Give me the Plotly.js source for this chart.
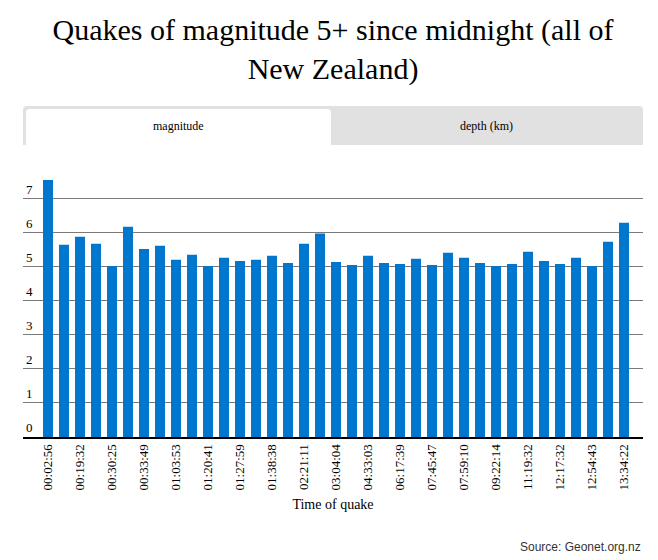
<!DOCTYPE html>
<html>
<head>
<meta charset="utf-8">
<script src="https://cdn.plot.ly/plotly-3.0.1.min.js"></script>
<style>
  html, body { margin: 0; padding: 0; background: #fff; }
  #chart { width: 658px; height: 560px; }
</style>
</head>
<body>
<div id="chart"></div>
<script>
// Time labels shown on the axis (every other quake is labelled)
const labelledTimes = ["00:02:56","00:19:32","00:30:25","00:33:49","01:03:53","01:20:41","01:27:59","01:38:38","02:21:11","03:04:04","04:33:03","06:17:39","07:45:47","07:59:10","09:22:14","11:19:32","12:17:32","12:54:43","13:34:22"];
// Magnitude of each quake, in time order
const magnitude = [7.53,5.63,5.87,5.66,5.01,6.16,5.51,5.60,5.19,5.34,5.01,5.25,5.16,5.19,5.31,5.10,5.66,5.96,5.13,5.04,5.31,5.10,5.07,5.22,5.04,5.40,5.25,5.10,5.01,5.07,5.43,5.16,5.07,5.25,5.01,5.72,6.28];
const yTicks = [0,1,2,3,4,5,6,7];
const tabLabels = ["magnitude", "depth (km)"];

const quakeIndex = magnitude.map((_, i) => i);
const tickIndex = labelledTimes.map((_, k) => 2 * k);

const serif = "Liberation Serif, Times New Roman, serif";

const trace = {
  type: "bar",
  x: quakeIndex,
  y: magnitude,
  marker: { color: "#0077cc" },
  hoverinfo: "none"
};

// rounded-top rectangle path in paper coords
function roundTop(x0, x1, y0, y1, rx, ry) {
  return `M ${x0},${y0} L ${x0},${y1 - ry} Q ${x0},${y1} ${x0 + rx},${y1} ` +
         `L ${x1 - rx},${y1} Q ${x1},${y1} ${x1},${y1 - ry} L ${x1},${y0} Z`;
}

const layout = {
  width: 658,
  height: 560,
  margin: { l: 23, r: 15, t: 180, b: 122.7, pad: 0 },
  paper_bgcolor: "#fff",
  plot_bgcolor: "#fff",
  showlegend: false,
  bargap: 0.375,
  font: { family: serif, color: "#000" },
  title: {
    text: "Quakes of magnitude 5+ since midnight (all of<br>New Zealand)",
    font: { family: serif, size: 30, color: "#000" },
    x: 0.5, xref: "paper", xanchor: "center",
    y: 0.928, yref: "container", yanchor: "top"
  },
  xaxis: {
    range: [-1.5625, 37.1875],
    tickvals: tickIndex,
    ticktext: labelledTimes,
    tickangle: -90,
    tickfont: { family: serif, size: 13, color: "#000" },
    ticks: "",
    showgrid: false,
    zeroline: false,
    showline: true,
    linecolor: "#000",
    linewidth: 2,
    fixedrange: true,
    title: {
      text: "Time of quake",
      font: { family: serif, size: 14, color: "#000" },
      standoff: 10
    }
  },
  yaxis: {
    range: [0, Math.max(...magnitude)],
    tickvals: yTicks,
    ticktext: yTicks.map(String),
    ticklabelposition: "inside top",
    tickfont: { family: serif, size: 13, color: "#000" },
    ticks: "",
    showgrid: true,
    gridcolor: "#7a7a7a",
    gridwidth: 1,
    zeroline: false,
    showline: false,
    fixedrange: true
  },
  shapes: [
    {
      type: "path", xref: "paper", yref: "paper",
      path: roundTop(0, 1, 1.1360, 1.2876, 0.0065, 0.0155),
      fillcolor: "#e1e1e1", line: { width: 0 }, layer: "below"
    },
    {
      type: "path", xref: "paper", yref: "paper",
      path: roundTop(0.0048, 0.4968, 1.1360, 1.2760, 0.0065, 0.0155),
      fillcolor: "#ffffff", line: { width: 0 }, layer: "below"
    }
  ],
  annotations: [
    {
      text: tabLabels[0], xref: "paper", yref: "paper",
      x: 0.25, y: 1.2099, xanchor: "center", yanchor: "middle",
      showarrow: false, font: { family: serif, size: 12, color: "#000" }
    },
    {
      text: tabLabels[1], xref: "paper", yref: "paper",
      x: 0.748, y: 1.2099, xanchor: "center", yanchor: "middle",
      showarrow: false, font: { family: serif, size: 12, color: "#000" }
    },
    {
      text: "Source: Geonet.org.nz", xref: "paper", yref: "paper",
      x: 1, y: -0.4263, xanchor: "right", yanchor: "middle",
      showarrow: false, font: { family: "Liberation Sans, Arial, sans-serif", size: 12, color: "#333" }
    }
  ]
};

Plotly.newPlot("chart", [trace], layout, { displayModeBar: false, staticPlot: true });
</script>
</body>
</html>
